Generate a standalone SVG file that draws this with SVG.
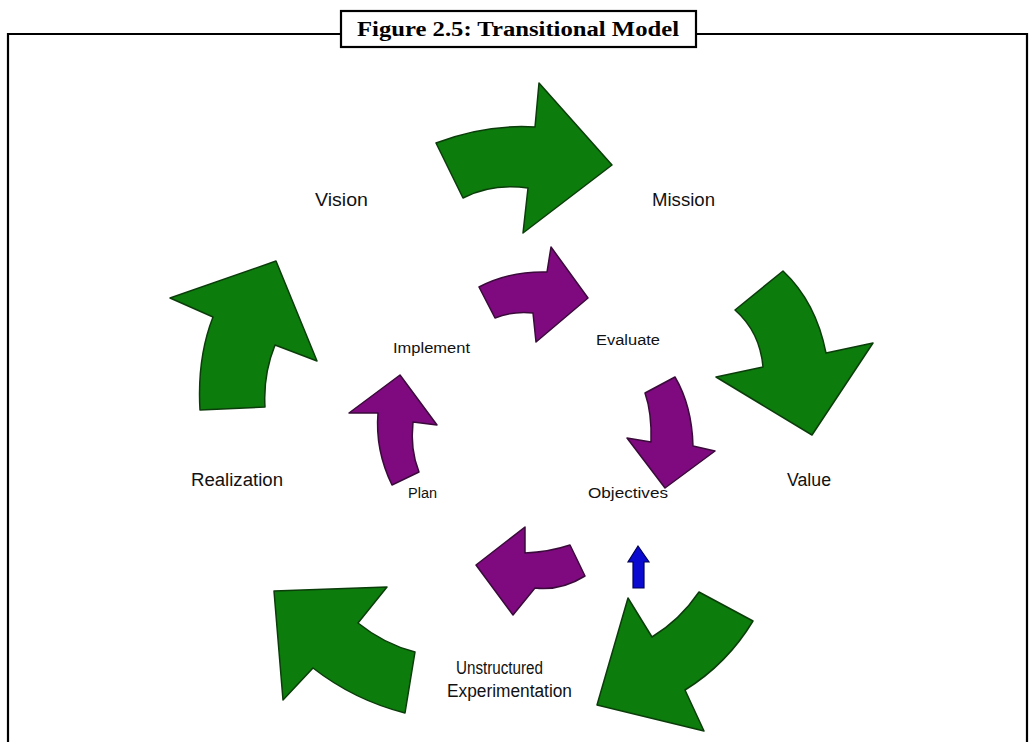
<svg xmlns="http://www.w3.org/2000/svg" width="1031" height="742" viewBox="0 0 1031 742">
<style>
.frame{fill:none;stroke:#000;stroke-width:2.2}
.green{fill:#0c7c0c;stroke:#0b3d0b;stroke-width:1.5;stroke-linejoin:round}
.purple{fill:#7f0a80;stroke:#3a0a3a;stroke-width:1.5;stroke-linejoin:round}
.blue{fill:#0a0ad0;stroke:#00005a;stroke-width:1.2}
.big{font-family:"Liberation Sans",Arial,sans-serif;font-size:18px;fill:#111}
.small{font-family:"Liberation Sans",Arial,sans-serif;font-size:14px;fill:#111}
.title{font-family:"Liberation Serif","Times New Roman",serif;font-size:20px;font-weight:bold;fill:#000}
</style>
<rect width="1031" height="742" fill="#fff"/>
<g id="frame">
<path class="frame" d="M8,742 V34 H341 M696,34 H1027 V742"/>
<rect class="frame" x="341" y="11" width="355" height="36" fill="#fff"/>
<text class="title" x="357" y="36" textLength="322" lengthAdjust="spacingAndGlyphs">Figure 2.5: Transitional Model</text>
</g>
<g id="connectors">
<path id="g-vision-mission" class="green" d="M436,143 Q485,124 535,127 L539,83 L612,165 L523,233 L528,188 Q492,183 463,198 Z"/>
<path id="g-mission-value" class="green" d="M783,271 Q816,302 826,353 L873,343 L812,435 L716,377 L763,367 Q760,332 735,310 Z"/>
<path id="g-value-unstructured" class="green" d="M597,705 L628,598 L652,637 Q680,620 699,592 L753,621 Q727,664 685,690 L704,731 Z"/>
<path id="g-unstructured-realization" class="green" d="M274,591 L387,587 L358,623 Q384,644 415,652 L405,713 Q354,700 313,668 L283,700 Z"/>
<path id="g-realization-vision" class="green" d="M200,410 Q197,358 213,317 L170,298 L276,261 L317,361 L275,345 Q263,375 265,407 Z"/>
<path id="p-implement-evaluate" class="purple" d="M479,287 Q510,271 547,272 L551,247 L588,298 L536,342 L533,313 Q512,311 495,318 Z"/>
<path id="p-evaluate-objectives" class="purple" d="M675,377 Q692,406 693,446 L715,451 L665,488 L627,438 L651,442 Q652,413 645,393 Z"/>
<path id="p-objectives-plan" class="purple" d="M476,565 L525,527 L525,553 Q549,552 570,545 L585,576 Q561,591 535,588 L513,615 Z"/>
<path id="p-plan-implement" class="purple" d="M400,375 L437,425 L413,422 Q410,450 419,472 L392,485 Q375,450 378,413 L349,413 Z"/>
<path id="b-objectives" class="blue" d="M638,546 L649,562 L644,562 L644,588 L633,588 L633,562 L628,562 Z"/>
</g>
<g id="node-vision"><text class="big" x="315" y="206" textLength="53" lengthAdjust="spacingAndGlyphs">Vision</text></g>
<g id="node-mission"><text class="big" x="652" y="206" textLength="63" lengthAdjust="spacingAndGlyphs">Mission</text></g>
<g id="node-value"><text class="big" x="787" y="486" textLength="44" lengthAdjust="spacingAndGlyphs">Value</text></g>
<g id="node-realization"><text class="big" x="191" y="486" textLength="92" lengthAdjust="spacingAndGlyphs">Realization</text></g>
<g id="node-unstructured">
<text class="big" x="456" y="674" textLength="87" lengthAdjust="spacingAndGlyphs">Unstructured</text>
<text class="big" x="447" y="697" textLength="125" lengthAdjust="spacingAndGlyphs">Experimentation</text>
</g>
<g id="node-implement"><text class="small" x="393" y="353" textLength="77" lengthAdjust="spacingAndGlyphs">Implement</text></g>
<g id="node-evaluate"><text class="small" x="596" y="345" textLength="64" lengthAdjust="spacingAndGlyphs">Evaluate</text></g>
<g id="node-plan"><text class="small" x="408" y="498" textLength="29" lengthAdjust="spacingAndGlyphs">Plan</text></g>
<g id="node-objectives"><text class="small" x="588" y="498" textLength="80" lengthAdjust="spacingAndGlyphs">Objectives</text></g>
</svg>
